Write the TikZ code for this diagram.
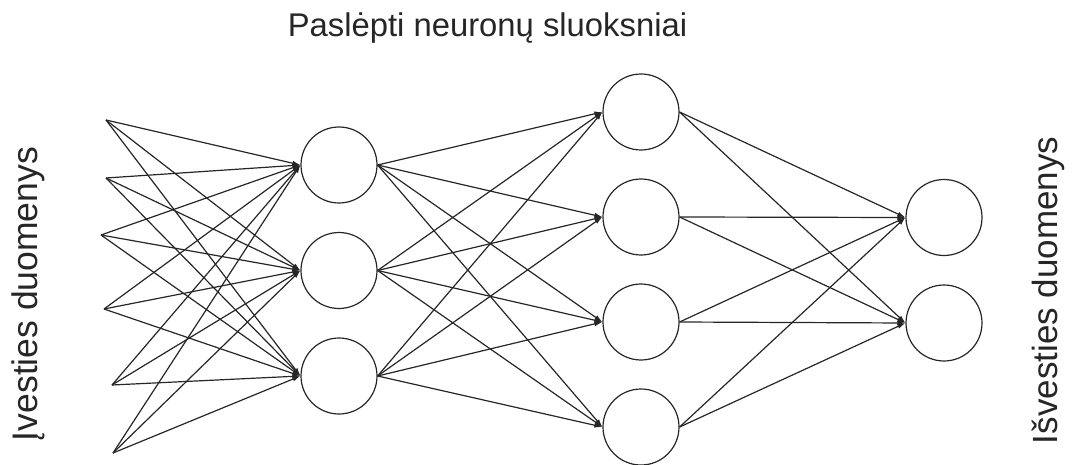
\documentclass[tikz,border=0pt]{standalone}
\usepackage{fontspec}
\setmainfont{Liberation Sans}
\usetikzlibrary{arrows.meta}
\definecolor{ink}{HTML}{262626}
\tikzset{
  neuron/.style={circle,draw=ink,line width=1.2pt,minimum size=76pt,inner sep=0pt},
  conn/.style={draw=ink,line width=1.2pt,-{Latex[length=8pt,width=5pt]}},
  lbl/.style={text=ink,inner sep=0pt}
}
\begin{document}
\begin{tikzpicture}[x=1pt,y=-1pt]
\useasboundingbox (0,0) rectangle (1076,465);
% input points
\coordinate (i1) at (106,120);
\coordinate (i2) at (106,178);
\coordinate (i3) at (101,235);
\coordinate (i4) at (104,309);
\coordinate (i5) at (112,385);
\coordinate (i6) at (113,453);
% hidden layer 1
\node[neuron] (a1) at (339,165) {};
\node[neuron] (a2) at (339,270.5) {};
\node[neuron] (a3) at (339,376) {};
% hidden layer 2
\node[neuron] (b1) at (641,112) {};
\node[neuron] (b2) at (641,217) {};
\node[neuron] (b3) at (641,322) {};
\node[neuron] (b4) at (641,427) {};
% output layer
\node[neuron] (c1) at (944,217.5) {};
\node[neuron] (c2) at (944,323) {};
% connections
\foreach \i in {1,...,6}{\foreach \a in {1,2,3}{\path[conn] (i\i) -- (a\a.west);}}
\foreach \a in {1,2,3}{\foreach \b in {1,2,3,4}{\path[conn] (a\a.east) -- (b\b.west);}}
\foreach \b in {1,2,3,4}{\foreach \c in {1,2}{\path[conn] (b\b.east) -- (c\c.west);}}
% labels
\node[lbl,anchor=base,font=\fontsize{32.8}{36}\selectfont] (title) at (487.5,37) {Paslėpti neuronų sluoksniai};
\node[lbl,anchor=base,rotate=90,font=\fontsize{35.5}{40}\selectfont] (inlbl) at (37,294) {Įvesties duomenys};
\node[lbl,anchor=base,rotate=90,font=\fontsize{35}{40}\selectfont] (outlbl) at (1057,290.5) {Išvesties duomenys};
\end{tikzpicture}
\end{document}
